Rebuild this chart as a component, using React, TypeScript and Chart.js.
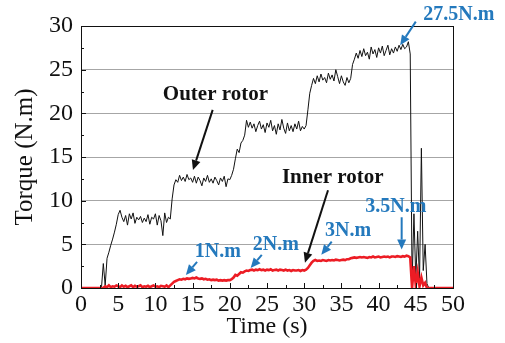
import { useEffect, useRef } from "react";
import { Chart, registerables } from "chart.js";

Chart.register(...registerables);

// Sampling interval of the torque recordings, in seconds
const SAMPLE_STEP = 0.25;

// Outer rotor torque (N.m), four samples per second, from t = 0 s to t = 50 s
const outerRotor = [
  0, 0, 0, 0, // 0 s
  0, 0, 0, 0, // 1 s
  0, 0, 0, 0, // 2 s
  2.8, 0.3, 3.4, 4.1, // 3 s
  4.9, 5.6, 6.4, 7.3, // 4 s
  8.4, 8.9, 8.1, 7.6, // 5 s
  8.3, 7.2, 8.5, 7.9, // 6 s
  8.6, 7.4, 8.1, 7.8, // 7 s
  8.2, 7.5, 8.0, 7.6, // 8 s
  8.4, 7.3, 8.1, 7.9, // 9 s
  8.5, 7.2, 8.3, 7.7, // 10 s
  6.0, 8.6, 7.5, 8.1, // 11 s
  7.9, 10.2, 11.8, 12.4, // 12 s
  12.1, 12.9, 12.3, 12.7, // 13 s
  12.2, 13.0, 12.4, 12.6, // 14 s
  12.1, 12.8, 12.0, 12.7, // 15 s
  12.3, 11.7, 12.6, 12.2, // 16 s
  12.9, 12.1, 12.5, 12.0, // 17 s
  12.7, 12.3, 11.8, 12.6, // 18 s
  12.2, 12.8, 11.6, 12.5, // 19 s
  12.4, 12.9, 13.6, 14.8, // 20 s
  15.9, 15.5, 16.6, 16.9, // 21 s
  17.5, 19.2, 18.4, 19.0, // 22 s
  18.3, 18.8, 17.9, 18.6, // 23 s
  19.1, 18.2, 18.7, 17.8, // 24 s
  18.9, 18.4, 19.2, 18.0, // 25 s
  18.6, 17.6, 18.8, 18.1, // 26 s
  19.3, 18.3, 17.7, 18.9, // 27 s
  18.0, 18.6, 17.9, 18.8, // 28 s
  18.2, 19.1, 18.0, 18.5, // 29 s
  18.2, 18.6, 20.4, 22.3, // 30 s
  23.2, 24.0, 23.4, 24.3, // 31 s
  23.6, 24.5, 23.8, 24.1, // 32 s
  23.5, 24.6, 23.9, 24.4, // 33 s
  23.7, 25.0, 24.2, 23.4, // 34 s
  24.3, 23.6, 23.2, 24.1, // 35 s
  23.5, 24.0, 25.6, 26.2, // 36 s
  26.9, 26.3, 27.2, 26.5, // 37 s
  27.4, 26.6, 27.0, 26.2, // 38 s
  27.6, 26.8, 27.3, 26.4, // 39 s
  27.5, 26.9, 27.7, 26.6, // 40 s
  27.2, 27.8, 26.7, 27.4, // 41 s
  26.9, 27.6, 27.1, 27.8, // 42 s
  27.3, 27.9, 27.4, 27.6, // 43 s
  28.2, 26.8, 0.5, 8.5, // 44 s
  1.0, 6.5, 0.8, 16.0, // 45 s
  2.0, 5.0, 0.5, 0, // 46 s
  0, 0, 0, 0, // 47 s
  0, 0, 0, 0, // 48 s
  0, 0, 0, 0, // 49 s
  0, // 50 s
];

// Inner rotor torque (N.m), same sampling
const innerRotor = [
  0, 0, 0, 0, // 0 s
  0, 0, 0, 0, // 1 s
  0, 0, 0, 0, // 2 s
  0, 0.2, 0.1, 0.3, // 3 s
  0.1, 0.2, 0.15, 0.3, // 4 s
  0.2, 0.1, 0.3, 0.15, // 5 s
  0.25, 0.1, 0.2, 0.3, // 6 s
  0.1, 0.25, 0.15, 0.2, // 7 s
  0.3, 0.1, 0.2, 0.15, // 8 s
  0.25, 0.1, 0.2, 0.3, // 9 s
  0.15, 0.2, 0.1, 0.25, // 10 s
  0.2, 0.15, 0.3, 0.1, // 11 s
  0.3, 0.5, 0.7, 0.8, // 12 s
  0.9, 1.0, 0.95, 1.05, // 13 s
  1.0, 1.1, 1.05, 1.1, // 14 s
  1.15, 1.1, 1.2, 1.1, // 15 s
  1.05, 1.1, 1.0, 1.05, // 16 s
  0.95, 1.0, 0.9, 0.95, // 17 s
  0.9, 0.95, 0.85, 0.9, // 18 s
  0.85, 0.9, 0.85, 0.9, // 19 s
  0.9, 1.0, 1.2, 1.5, // 20 s
  1.4, 1.6, 1.8, 1.75, // 21 s
  1.9, 2.0, 1.95, 2.05, // 22 s
  2.1, 2.0, 2.1, 2.05, // 23 s
  2.15, 2.05, 2.1, 2.0, // 24 s
  2.1, 2.05, 2.15, 2.0, // 25 s
  2.05, 2.1, 2.0, 2.1, // 26 s
  2.05, 2.0, 2.1, 2.0, // 27 s
  2.05, 1.95, 2.05, 2.0, // 28 s
  2.0, 2.05, 1.95, 2.05, // 29 s
  2.0, 2.1, 2.3, 2.6, // 30 s
  2.9, 3.1, 3.2, 3.1, // 31 s
  3.15, 3.1, 3.2, 3.15, // 32 s
  3.1, 3.2, 3.15, 3.2, // 33 s
  3.15, 3.25, 3.2, 3.15, // 34 s
  3.2, 3.25, 3.2, 3.3, // 35 s
  3.3, 3.4, 3.45, 3.5, // 36 s
  3.45, 3.5, 3.55, 3.5, // 37 s
  3.55, 3.5, 3.45, 3.55, // 38 s
  3.5, 3.6, 3.5, 3.55, // 39 s
  3.6, 3.5, 3.55, 3.6, // 40 s
  3.55, 3.6, 3.5, 3.6, // 41 s
  3.6, 3.55, 3.65, 3.6, // 42 s
  3.55, 3.65, 3.6, 3.7, // 43 s
  3.65, 3.5, 0, 2.5, // 44 s
  0.3, 1.8, 0.2, 1.2, // 45 s
  0.3, 0.6, 0, 0, // 46 s
  0, 0, 0, 0, // 47 s
  0, 0, 0, 0, // 48 s
  0, 0, 0, 0, // 49 s
  0, // 50 s
];

const X_MIN = 0;
const X_MAX = 50;
const X_STEP = 5;
const Y_MIN = 0;
const Y_MAX = 30;
const Y_STEP = 5;

const BLACK = "#111111";
const RED = "#ec1c24";
const BLUE = "#2479bd";
const SERIF = "'Liberation Serif', 'Times New Roman', serif";

Chart.defaults.font.family = SERIF;

// Callout texts with the arrow pointing at the curves (in data units: [time, torque])
const calloutText = ["Outer rotor", "Inner rotor", "1N.m", "2N.m", "3N.m", "3.5N.m", "27.5N.m"];
const calloutColor = [BLACK, BLACK, BLUE, BLUE, BLUE, BLUE, BLUE];
const calloutAt = [[11.0, 22.2], [27.0, 12.7], [15.3, 4.1], [23.1, 4.9], [32.8, 6.5], [38.2, 9.3], [46.0, 31.3]];
const arrowFrom = [[17.7, 20.4], [33.2, 11.2], [15.6, 3.0], [24.3, 3.8], [33.7, 5.3], [43.1, 8.1], [45.0, 30.5]];
const arrowTo = [[15.05, 13.5], [30.1, 2.9], [14.1, 1.5], [22.8, 2.3], [32.3, 3.8], [43.1, 4.4], [42.9, 27.8]];

function drawArrow(ctx: CanvasRenderingContext2D, x1: number, y1: number, x2: number, y2: number, color: string) {
  const ang = Math.atan2(y2 - y1, x2 - x1);
  const headLen = 10;
  const headHalf = 4.5;
  const bx = x2 - headLen * Math.cos(ang);
  const by = y2 - headLen * Math.sin(ang);
  ctx.strokeStyle = color;
  ctx.fillStyle = color;
  ctx.lineWidth = 2;
  ctx.beginPath();
  ctx.moveTo(x1, y1);
  ctx.lineTo(bx, by);
  ctx.stroke();
  ctx.beginPath();
  ctx.moveTo(x2, y2);
  ctx.lineTo(bx + headHalf * Math.sin(ang), by - headHalf * Math.cos(ang));
  ctx.lineTo(bx - headHalf * Math.sin(ang), by + headHalf * Math.cos(ang));
  ctx.closePath();
  ctx.fill();
}

const framePlugin = {
  id: "frameAndTicks",
  afterDatasetsDraw(chart: any) {
    const { ctx, chartArea } = chart;
    const xs = chart.scales.x;
    const ys = chart.scales.y;
    ctx.save();
    ctx.strokeStyle = BLACK;
    ctx.lineWidth = 1;
    ctx.strokeRect(Math.round(chartArea.left) + 0.5, Math.round(chartArea.top) + 0.5,
      Math.round(chartArea.right - chartArea.left), Math.round(chartArea.bottom - chartArea.top));
    // inward tick marks, major every 5, minor halfway
    ctx.beginPath();
    for (let v = X_MIN; v <= X_MAX; v += X_STEP / 2) {
      const px = Math.round(xs.getPixelForValue(v)) + 0.5;
      const len = v % X_STEP === 0 ? 5 : 3;
      ctx.moveTo(px, chartArea.bottom);
      ctx.lineTo(px, chartArea.bottom - len);
    }
    for (let v = Y_MIN; v <= Y_MAX; v += Y_STEP / 2) {
      const py = Math.round(ys.getPixelForValue(v)) + 0.5;
      const len = v % Y_STEP === 0 ? 5 : 3;
      ctx.moveTo(chartArea.left, py);
      ctx.lineTo(chartArea.left + len, py);
    }
    ctx.stroke();
    ctx.restore();
  },
  afterDraw(chart: any) {
    const { ctx } = chart;
    const xs = chart.scales.x;
    const ys = chart.scales.y;
    ctx.save();
    calloutText.forEach((text, i) => {
      const color = calloutColor[i];
      const isBlue = color === BLUE;
      ctx.font = `bold ${isBlue ? 20 : 21}px ${SERIF}`;
      ctx.fillStyle = color;
      ctx.textAlign = "left";
      ctx.textBaseline = "middle";
      ctx.fillText(text, xs.getPixelForValue(calloutAt[i][0]), ys.getPixelForValue(calloutAt[i][1]));
      drawArrow(
        ctx,
        xs.getPixelForValue(arrowFrom[i][0]), ys.getPixelForValue(arrowFrom[i][1]),
        xs.getPixelForValue(arrowTo[i][0]), ys.getPixelForValue(arrowTo[i][1]),
        color
      );
    });
    ctx.restore();
  },
};

export default function App() {
  const canvasRef = useRef<HTMLCanvasElement | null>(null);

  useEffect(() => {
    const canvas = canvasRef.current;
    if (!canvas) return;
    const toPoints = (arr: number[]) => arr.map((y, i) => ({ x: i * SAMPLE_STEP, y }));

    const chart = new Chart(canvas, {
      type: "line",
      data: {
        datasets: [
          {
            label: "Inner rotor",
            data: toPoints(innerRotor),
            borderColor: RED,
            borderWidth: 2.6,
            pointRadius: 0,
            tension: 0,
          },
          {
            label: "Outer rotor",
            data: toPoints(outerRotor),
            borderColor: BLACK,
            borderWidth: 1,
            pointRadius: 0,
            tension: 0,
          },
        ],
      },
      options: {
        animation: false,
        responsive: false,
        devicePixelRatio: 1,
        layout: { padding: { top: 26, right: 52, left: 0, bottom: 0 } },
        plugins: {
          legend: { display: false },
          tooltip: { enabled: false },
        },
        scales: {
          x: {
            type: "linear",
            min: X_MIN,
            max: X_MAX,
            ticks: {
              stepSize: X_STEP,
              color: BLACK,
              padding: 2,
              maxRotation: 0,
              font: { family: SERIF, size: 24 },
            },
            grid: { display: false, drawTicks: false },
            border: { display: false },
            title: {
              display: true,
              text: "Time (s)",
              color: BLACK,
              font: { family: SERIF, size: 24 },
              padding: { top: 0, bottom: 2 },
            },
            afterFit(scale: any) {
              scale.height = 55;
            },
          },
          y: {
            min: Y_MIN,
            max: Y_MAX,
            ticks: {
              stepSize: Y_STEP,
              color: BLACK,
              padding: 8,
              font: { family: SERIF, size: 24 },
            },
            grid: { color: "#a6a6a6", lineWidth: 1, drawTicks: false },
            border: { display: false },
            title: {
              display: true,
              text: "Torque (N.m)",
              color: BLACK,
              font: { family: SERIF, size: 25 },
              padding: { top: 10, bottom: 0 },
            },
            afterFit(scale: any) {
              scale.width = 81;
            },
          },
        },
      },
      plugins: [framePlugin],
    });
    return () => chart.destroy();
  }, []);

  return (
    <div style={{ position: "absolute", left: 0, top: 0, width: 505, height: 343, background: "#fff" }}>
      <canvas ref={canvasRef} width={505} height={343} />
    </div>
  );
}
